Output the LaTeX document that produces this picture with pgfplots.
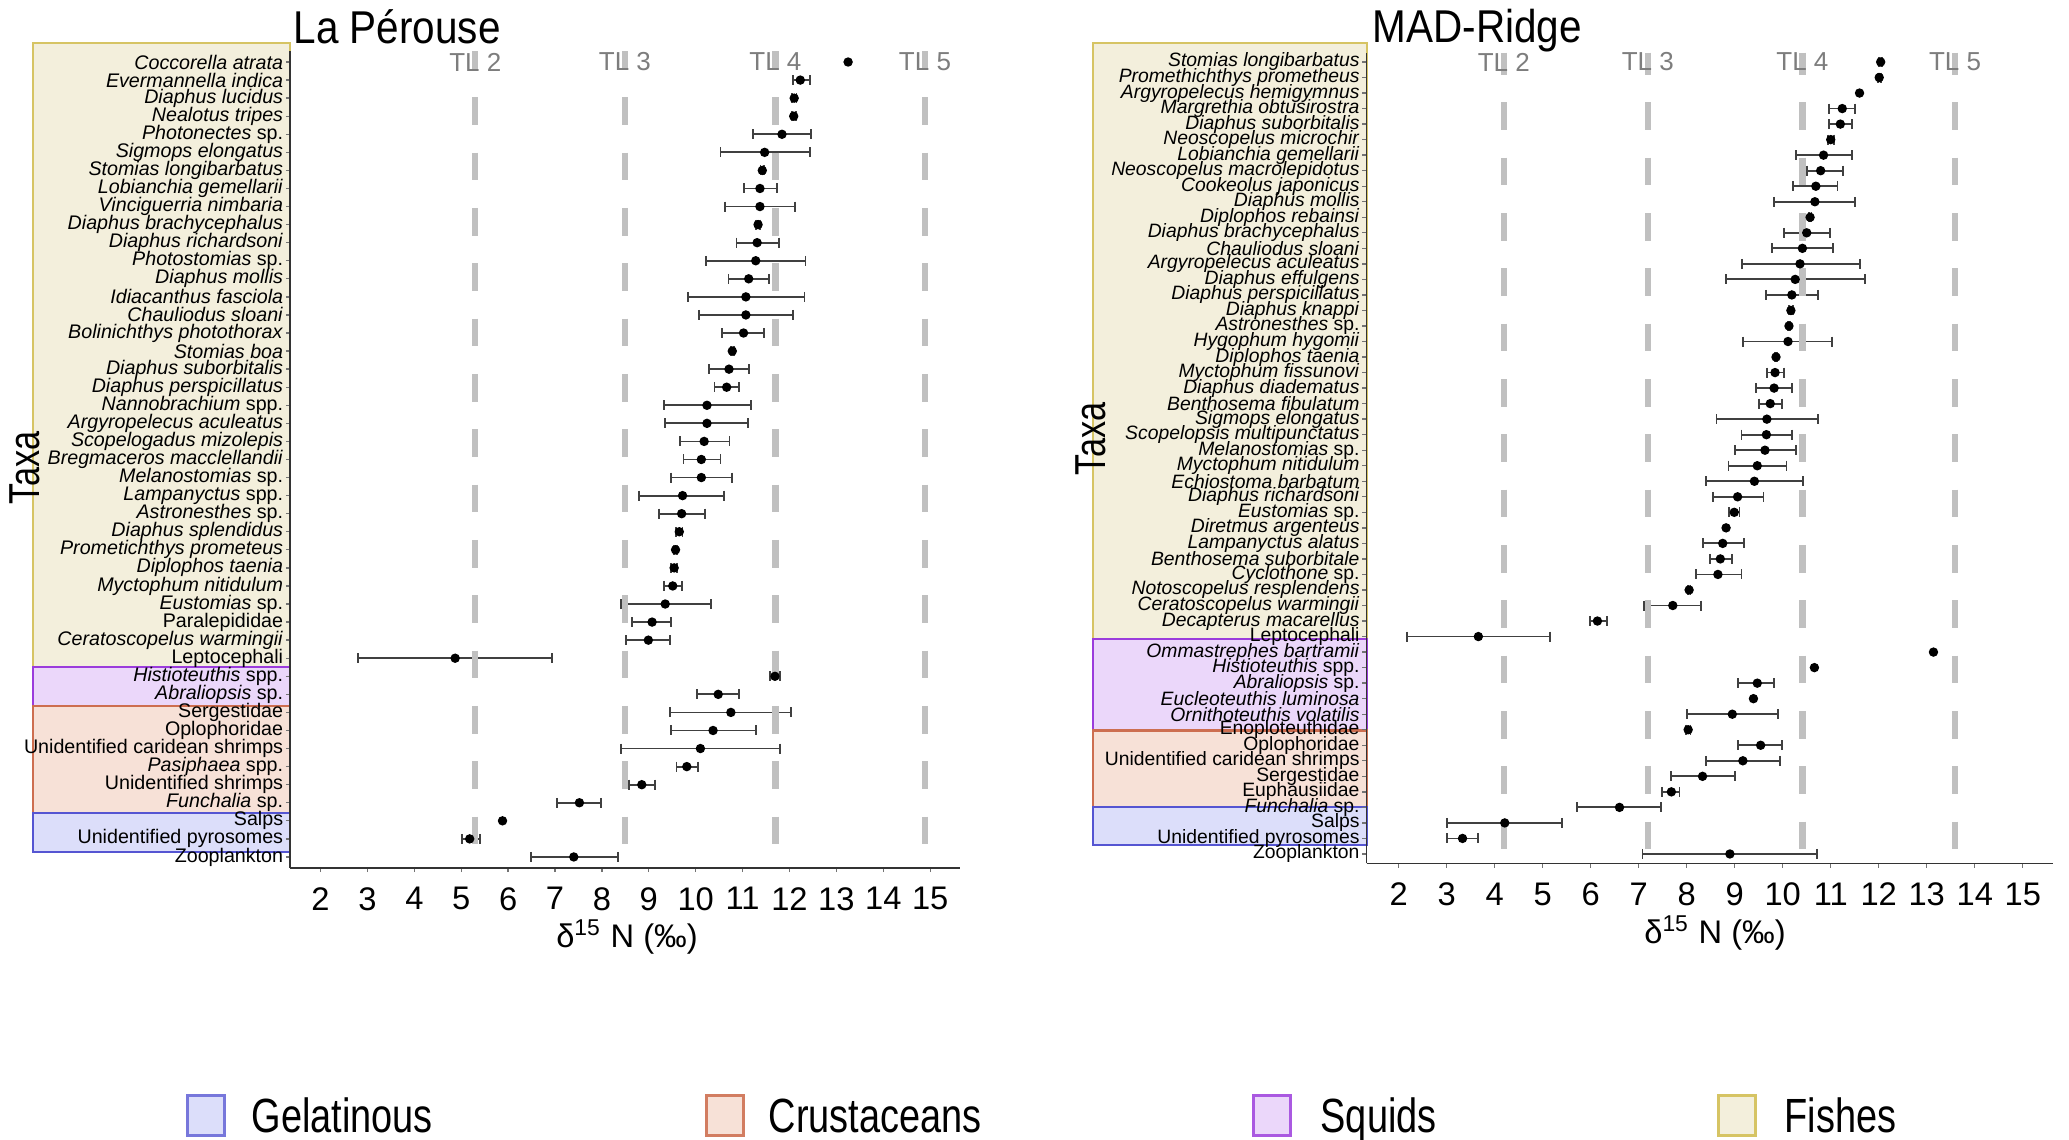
\documentclass[border=0pt]{standalone}
\usepackage{fontspec}
\setmainfont{Liberation Sans}
\newfontfamily\legfont[FakeStretch=0.79]{Liberation Sans}
\newfontfamily\titlefont[FakeStretch=0.88]{Liberation Sans}
\usepackage{pgfplots}
\pgfplotsset{compat=1.18}
\usepackage{pgfplotstable}

\definecolor{fishfill}{RGB}{243,239,220}
\definecolor{fishdraw}{RGB}{214,196,100}
\definecolor{squidfill}{RGB}{235,215,250}
\definecolor{squiddraw}{RGB}{155,60,220}
\definecolor{crustfill}{RGB}{247,225,215}
\definecolor{crustdraw}{RGB}{205,110,80}
\definecolor{gelfill}{RGB}{220,222,250}
\definecolor{geldraw}{RGB}{85,85,210}
\definecolor{tlgray}{RGB}{192,192,192}
\definecolor{tltext}{RGB}{125,125,125}

% La Perouse: y (row from bottom), mean, minus, plus
\pgfplotstableread{
y x em ep
45 13.25 0 0
44 12.23 0.15 0.20
43 12.10 0.05 0.05
42 12.09 0.04 0.04
41 11.84 0.62 0.62
40 11.47 0.94 0.96
39 11.42 0.04 0.04
38 11.37 0.34 0.36
37 11.37 0.75 0.75
36 11.33 0.04 0.04
35 11.31 0.44 0.46
34 11.28 1.06 1.06
33 11.13 0.43 0.43
32 11.07 1.24 1.25
31 11.07 1.00 1.01
30 11.02 0.46 0.44
29 10.78 0.03 0.03
28 10.71 0.42 0.42
27 10.66 0.26 0.27
26 10.24 0.92 0.94
25 10.24 0.89 0.87
24 10.18 0.51 0.54
23 10.12 0.38 0.41
22 10.12 0.64 0.65
21 9.72 0.93 0.88
20 9.70 0.48 0.49
19 9.65 0.07 0.07
18 9.57 0.03 0.03
17 9.54 0.06 0.06
16 9.51 0.18 0.20
15 9.35 0.94 0.97
14 9.07 0.42 0.41
13 8.99 0.47 0.46
12 4.87 2.08 2.07
11 11.69 0.11 0.11
10 10.48 0.45 0.45
9 10.75 1.30 1.29
8 10.37 0.89 0.92
7 10.10 1.70 1.70
6 9.81 0.22 0.24
5 8.85 0.27 0.29
4 7.52 0.48 0.46
3 5.88 0 0
2 5.18 0.16 0.22
1 7.40 0.91 0.95
}\lpdata

% MAD-Ridge
\pgfplotstableread{
y x em ep
52 12.04 0.03 0.03
51 12.01 0.03 0.03
50 11.60 0 0
49 11.24 0.27 0.26
48 11.20 0.23 0.24
47 11.00 0.06 0.06
46 10.85 0.58 0.59
45 10.79 0.29 0.46
44 10.69 0.47 0.45
43 10.67 0.85 0.84
42 10.57 0.03 0.03
41 10.50 0.47 0.49
40 10.41 0.64 0.64
39 10.36 1.20 1.25
38 10.26 1.44 1.45
37 10.19 0.53 0.55
36 10.17 0.04 0.04
35 10.13 0.02 0.02
34 10.11 0.94 0.92
33 9.86 0.02 0.02
32 9.84 0.17 0.18
31 9.82 0.38 0.38
30 9.74 0.24 0.25
29 9.67 1.05 1.06
28 9.66 0.52 0.54
27 9.63 0.63 0.64
26 9.47 0.60 0.61
25 9.41 1.01 1.02
24 9.06 0.52 0.54
23 8.99 0.11 0.11
22 8.82 0 0
21 8.75 0.41 0.44
20 8.70 0.21 0.25
19 8.65 0.45 0.49
18 8.05 0.03 0.03
17 7.71 0.60 0.58
16 6.14 0.16 0.20
15 3.66 1.49 1.50
14 13.14 0 0
13 10.66 0 0
12 9.47 0.40 0.35
11 9.39 0 0
10 8.95 0.95 0.96
9 8.03 0.05 0.05
8 9.54 0.47 0.45
7 9.17 0.76 0.77
6 8.33 0.66 0.67
5 7.68 0.19 0.17
4 6.60 0.88 0.87
3 4.21 1.21 1.19
2 3.33 0.33 0.32
1 8.90 1.82 1.81
}\mrdata

\tikzset{
 tllab/.style={tltext, font=\fontsize{7.8}{8}\selectfont, inner sep=0pt},
}
\pgfplotsset{
 panel/.style={
  scale only axis, anchor=south west,
  axis x line*=bottom, axis y line*=left,
  xmin=1.35, xmax=15.63, ymin=0.4,
  xtick={2,...,15},
  tick align=outside, major tick length=1.3pt,
  every tick/.style={black!55, line width=0.4pt},
  axis line style={black!80, line width=0.45pt},
  /pgf/number format/assume math mode=true,
  xticklabel style={font=\fontsize{9.8}{10}\selectfont, yshift=-1pt},
  yticklabel style={font=\fontsize{5.9}{6}\selectfont, inner sep=0.6pt},
  clip=false, unbounded coords=discard,
 },
 dat/.style={only marks, mark=*, mark size=1.2pt, black,
  error bars/.cd, x dir=both, x explicit, error mark=none,
  error bar style={line width=0.55pt, black!75}},
 cap/.style={only marks, mark=|, mark size=1.5pt, mark options={line width=0.55pt, black!75}},
 tl/.style={tlgray, line width=1.9pt, dash pattern=on 8.3pt off 8.3pt},
}

\begin{document}
\begin{tikzpicture}
\path[use as bounding box] (0,0) rectangle (620.7pt,342pt);
\begin{scope}[x=0.3pt,y=-0.3pt,yshift=342pt]
 % group boxes, left
 \filldraw[fill=fishfill, draw=fishdraw, line width=0.7pt] (33,43) rectangle (290,667.3);
 \filldraw[fill=squidfill, draw=squiddraw, line width=0.7pt] (33,667.3) rectangle (290,706.2);
 \filldraw[fill=crustfill, draw=crustdraw, line width=0.7pt] (33,706.2) rectangle (290,812.8);
 \filldraw[fill=gelfill, draw=geldraw, line width=0.7pt] (33,812.8) rectangle (290,852);
 % group boxes, right
 \filldraw[fill=fishfill, draw=fishdraw, line width=0.7pt] (1093,43) rectangle (1367,638.9);
 \filldraw[fill=squidfill, draw=squiddraw, line width=0.7pt] (1093,638.9) rectangle (1367,730.6);
 \filldraw[fill=crustfill, draw=crustdraw, line width=0.7pt] (1093,730.6) rectangle (1367,806.7);
 \filldraw[fill=gelfill, draw=geldraw, line width=0.7pt] (1093,806.7) rectangle (1367,844.7);
 % titles
 \node[anchor=base west, inner sep=0pt, font=\titlefont\fontsize{13.8}{14}\selectfont] at (293,44) {La Pérouse};
 \node[anchor=base west, inner sep=0pt, font=\titlefont\fontsize{13.8}{14}\selectfont] at (1372,43) {MAD-Ridge};
 % y titles
 \node[rotate=90, inner sep=0pt, font=\legfont\fontsize{13}{13}\selectfont] at (25,468) {Taxa};
 \node[rotate=90, inner sep=0pt, font=\legfont\fontsize{13}{13}\selectfont] at (1091,439) {Taxa};
 % x titles
 \node[inner sep=0pt, font=\fontsize{9.8}{10}\selectfont] at (627,937) {δ\textsuperscript{15} N (‰)};
 \node[inner sep=0pt, font=\fontsize{9.8}{10}\selectfont] at (1715,933) {δ\textsuperscript{15} N (‰)};
 % legend
 \filldraw[fill=gelfill, draw=geldraw!80, line width=0.9pt] (187,1095) rectangle (224,1135);
 \filldraw[fill=crustfill, draw=crustdraw!90, line width=0.9pt] (706,1095) rectangle (743,1135);
 \filldraw[fill=squidfill, draw=squiddraw!85, line width=0.9pt] (1253,1095) rectangle (1290,1135);
 \filldraw[fill=fishfill, draw=fishdraw, line width=0.9pt] (1718,1095) rectangle (1755,1135);
 \node[anchor=base west, inner sep=0pt, font=\legfont\fontsize{14.4}{15}\selectfont] at (251,1132) {Gelatinous};
 \node[anchor=base west, inner sep=0pt, font=\legfont\fontsize{14.4}{15}\selectfont] at (768,1132) {Crustaceans};
 \node[anchor=base west, inner sep=0pt, font=\legfont\fontsize{14.4}{15}\selectfont] at (1320,1132) {Squids};
 \node[anchor=base west, inner sep=0pt, font=\legfont\fontsize{14.4}{15}\selectfont] at (1784,1132) {Fishes};
\end{scope}

% ---------------- La Perouse ----------------
\begin{axis}[panel, at={(87.03pt,81.66pt)}, width=200.88pt, height=244.98pt,
  ymax=45.6, ytick={1,...,45},
  yticklabels={Zooplankton, Unidentified pyrosomes, Salps, \textit{Funchalia} sp., Unidentified shrimps, \textit{Pasiphaea} spp., Unidentified caridean shrimps, Oplophoridae, Sergestidae, \textit{Abraliopsis} sp., \textit{Histioteuthis} spp., Leptocephali, \textit{Ceratoscopelus warmingii}, Paralepididae, \textit{Eustomias} sp., \textit{Myctophum nitidulum}, \textit{Diplophos taenia}, \textit{Prometichthys prometeus}, \textit{Diaphus splendidus}, \textit{Astronesthes} sp., \textit{Lampanyctus} spp., \textit{Melanostomias} sp., \textit{Bregmaceros macclellandii}, \textit{Scopelogadus mizolepis}, \textit{Argyropelecus aculeatus}, \textit{Nannobrachium} spp., \textit{Diaphus perspicillatus}, \textit{Diaphus suborbitalis}, \textit{Stomias boa}, \textit{Bolinichthys photothorax}, \textit{Chauliodus sloani}, \textit{Idiacanthus fasciola}, \textit{Diaphus mollis}, \textit{Photostomias} sp., \textit{Diaphus richardsoni}, \textit{Diaphus brachycephalus}, \textit{Vinciguerria nimbaria}, \textit{Lobianchia gemellarii}, \textit{Stomias longibarbatus}, \textit{Sigmops elongatus}, \textit{Photonectes} sp., \textit{Nealotus tripes}, \textit{Diaphus lucidus}, \textit{Evermannella indica}, \textit{Coccorella atrata}},
]
\addplot[cap] table[x expr={\thisrow{em}>0 ? \thisrow{x}-\thisrow{em} : nan}, y=y] {\lpdata};
\addplot[cap] table[x expr={\thisrow{ep}>0 ? \thisrow{x}+\thisrow{ep} : nan}, y=y] {\lpdata};
\addplot[dat] table[x=x, y=y, x error minus=em, x error plus=ep] {\lpdata};
\addplot[tl, dash phase=2.76pt] coordinates {(5.30,45.6) (5.30,0.4)};
\addplot[tl, dash phase=2.76pt] coordinates {(8.49,45.6) (8.49,0.4)};
\addplot[tl, dash phase=2.76pt] coordinates {(11.70,45.6) (11.70,0.4)};
\addplot[tl, dash phase=2.76pt] coordinates {(14.89,45.6) (14.89,0.4)};
\node[tllab] at (axis cs:5.30,45) {TL 2};
\node[tllab] at (axis cs:8.49,45) {TL 3};
\node[tllab] at (axis cs:11.70,45) {TL 4};
\node[tllab] at (axis cs:14.89,45) {TL 5};
\end{axis}

% ---------------- MAD-Ridge ----------------
\begin{axis}[panel, at={(409.95pt,83.01pt)}, width=205.8pt, height=243.18pt,
  xmin=1.33, xmax=15.62, ymax=52.6, ytick={1,...,52},
  yticklabel style={font=\fontsize{5.8}{6}\selectfont},
  yticklabels={Zooplankton, Unidentified pyrosomes, Salps, \textit{Funchalia} sp., Euphausiidae, Sergestidae, Unidentified caridean shrimps, Oplophoridae, Enoploteuthidae, \textit{Ornithoteuthis volatilis}, \textit{Eucleoteuthis luminosa}, \textit{Abraliopsis} sp., \textit{Histioteuthis} spp., \textit{Ommastrephes bartramii}, Leptocephali, \textit{Decapterus macarellus}, \textit{Ceratoscopelus warmingii}, \textit{Notoscopelus resplendens}, \textit{Cyclothone} sp., \textit{Benthosema suborbitale}, \textit{Lampanyctus alatus}, \textit{Diretmus argenteus}, \textit{Eustomias} sp., \textit{Diaphus richardsoni}, \textit{Echiostoma barbatum}, \textit{Myctophum nitidulum}, \textit{Melanostomias} sp., \textit{Scopelopsis multipunctatus}, \textit{Sigmops elongatus}, \textit{Benthosema fibulatum}, \textit{Diaphus diadematus}, \textit{Myctophum fissunovi}, \textit{Diplophos taenia}, \textit{Hygophum hygomii}, \textit{Astronesthes} sp., \textit{Diaphus knappi}, \textit{Diaphus perspicillatus}, \textit{Diaphus effulgens}, \textit{Argyropelecus aculeatus}, \textit{Chauliodus sloani}, \textit{Diaphus brachycephalus}, \textit{Diplophos rebainsi}, \textit{Diaphus mollis}, \textit{Cookeolus japonicus}, \textit{Neoscopelus macrolepidotus}, \textit{Lobianchia gemellarii}, \textit{Neoscopelus microchir}, \textit{Diaphus suborbitalis}, \textit{Margrethia obtusirostra}, \textit{Argyropelecus hemigymnus}, \textit{Promethichthys prometheus}, \textit{Stomias longibarbatus}},
]
\addplot[cap] table[x expr={\thisrow{em}>0 ? \thisrow{x}-\thisrow{em} : nan}, y=y] {\mrdata};
\addplot[cap] table[x expr={\thisrow{ep}>0 ? \thisrow{x}+\thisrow{ep} : nan}, y=y] {\mrdata};
\addplot[dat] table[x=x, y=y, x error minus=em, x error plus=ep] {\mrdata};
\addplot[tl, dash phase=1.7pt] coordinates {(4.19,52.6) (4.19,0.4)};
\addplot[tl, dash phase=1.7pt] coordinates {(7.19,52.6) (7.19,0.4)};
\addplot[tl, dash phase=1.7pt] coordinates {(10.41,52.6) (10.41,0.4)};
\addplot[tl, dash phase=1.7pt] coordinates {(13.59,52.6) (13.59,0.4)};
\node[tllab] at (axis cs:4.19,52) {TL 2};
\node[tllab] at (axis cs:7.19,52) {TL 3};
\node[tllab] at (axis cs:10.41,52) {TL 4};
\node[tllab] at (axis cs:13.59,52) {TL 5};
\end{axis}
\end{tikzpicture}
\end{document}
